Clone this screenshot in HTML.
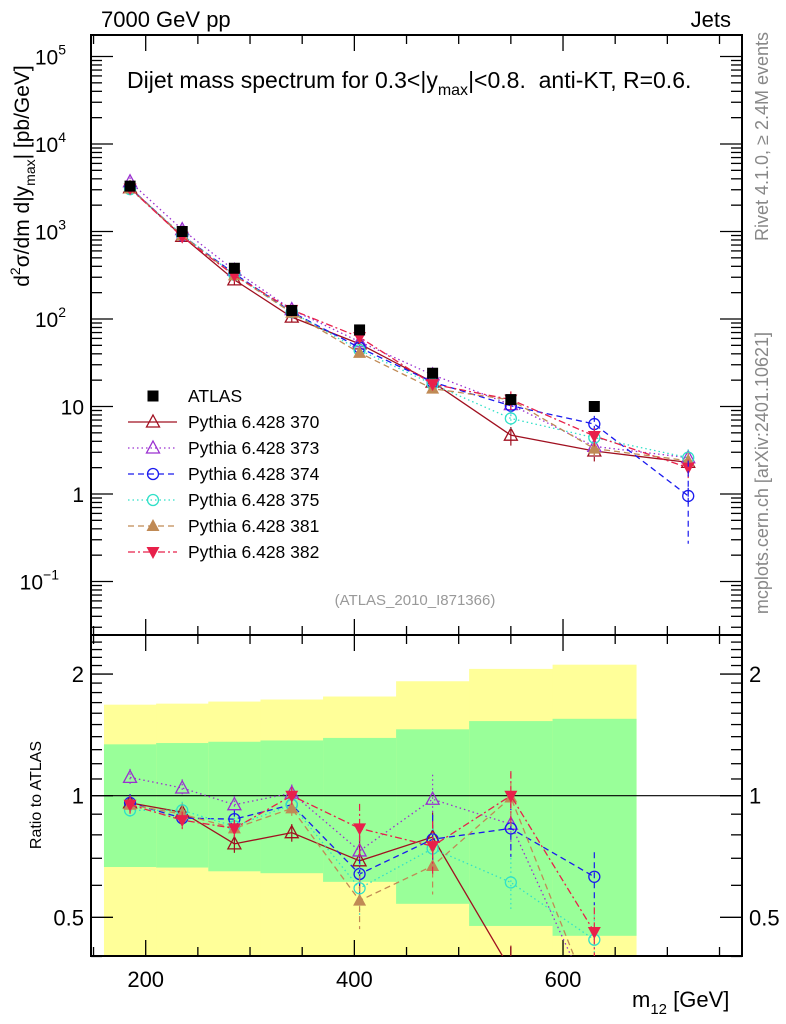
<!DOCTYPE html>
<html><head><meta charset="utf-8"><style>
body{margin:0;background:#fff;}
svg{display:block;font-family:"Liberation Sans",sans-serif;}
</style></head><body>
<svg id="c" width="786" height="1024" viewBox="0 0 786 1024"></svg>
<script>
const xs=[185,235,285,340,405,475,550,630,720];
const atlas=[3300,1000,380,125,75,24,12,10];
const s370=[3150,880,280,105,52,19,4.7,3.1,2.3];
const s373=[3700,1050,360,128,55,23,10.5,3.5,2.6];
const s374=[3150,900,330,120,47,19,10.2,6.3,0.95];
const s375=[3050,920,320,120,44,18,7.3,4.4,2.6];
const s381=[3100,900,315,118,41,16,11.9,3.3,2.4];
const s382=[3100,870,315,127,62,18,12,4.6,2.0];
const r370=[0.96,0.91,0.76,0.81,0.69,0.79,0.37,0.31];
const r373=[1.11,1.045,0.95,1.015,0.73,0.98,0.85,0.3];
const r374=[0.96,0.88,0.875,0.95,0.64,0.78,0.83,0.63];
const r375=[0.92,0.92,0.84,0.95,0.59,0.74,0.61,0.44];
const r381=[0.95,0.9,0.83,0.93,0.55,0.67,0.99,0.3];
const r382=[0.95,0.87,0.83,1.0,0.83,0.75,1.0,0.46];
const binEdges=[160,210,260,310,370,440,510,590,670];
const yellowUp=[1.68,1.69,1.71,1.73,1.76,1.92,2.06,2.11];
const greenUp=[1.34,1.35,1.36,1.37,1.39,1.46,1.53,1.55];
const greenDn=[0.666,0.664,0.65,0.643,0.612,0.54,0.476,0.45];
const yellowDn=[0.3,0.3,0.3,0.3,0.3,0.3,0.3,0.3];
const ticksMain=[5,4,3,2,1,0,-1];
const ticksRatio=[2,1,0.5];
const ticksX=[200,400,600];

const NS="http://www.w3.org/2000/svg";
const svg=document.getElementById('c');
const L=91,R=742,T=35,M=635,B=956;
const X=v=>145.7+(v-200)*1.0433;
const YM=v=>494-87.5*Math.log10(v);
const YR=v=>795.7-404*Math.log10(v);
function el(t,a,p){const e=document.createElementNS(NS,t);for(const k in a)e.setAttribute(k,a[k]);(p||svg).appendChild(e);return e;}
function txt(s,x,y,a,p){const e=el('text',Object.assign({x:x,y:y},a),p);e.textContent=s;return e;}

const defs=el('defs',{});
const c1=el('clipPath',{id:'cm'},defs);el('rect',{x:L,y:T,width:R-L,height:M-T},c1);
const c2=el('clipPath',{id:'cr'},defs);el('rect',{x:L,y:M,width:R-L,height:B-M},c2);

const bandG=el('g',{'clip-path':'url(#cr)'});


for(let i=0;i<yellowUp.length;i++){
  const x0=X(binEdges[i]),x1=X(binEdges[i+1]);
  const y=el('rect',{x:x0,y:YR(yellowUp[i]),width:x1-x0+0.5,height:YR(yellowDn[i])-YR(yellowUp[i]),fill:'#ffff99'},bandG);
  
  
  const g=el('rect',{x:x0,y:YR(greenUp[i]),width:x1-x0+0.5,height:YR(greenDn[i])-YR(greenUp[i]),fill:'#99ff99'},bandG);
  
  
}
el('line',{x1:L,x2:R,y1:YR(1),y2:YR(1),stroke:'#000','stroke-width':1.2});

el('rect',{x:L,y:T,width:R-L,height:M-T,fill:'none',stroke:'#000','stroke-width':2});
el('rect',{x:L,y:M,width:R-L,height:B-M,fill:'none',stroke:'#000','stroke-width':2});

for(let v=150;v<=770;v+=50){
  if(X(v)<L||X(v)>R)continue;
  const maj=v%200===0, h=maj?16:9;
  [[M,-1],[B,-1],[T,1],[M,1]].forEach(([y,d])=>{el('line',{x1:X(v),x2:X(v),y1:y,y2:y+d*h,stroke:'#000','stroke-width':1.3});});
}
ticksX.forEach(v=>{const t=txt(String(v),X(v),987,{'font-size':22,'text-anchor':'middle'});
});

for(let d=-2;d<=5;d++){for(let k=1;k<10;k++){const v=k*Math.pow(10,d);const y=YM(v);if(y<T||y>M)continue;
  const h=k===1?22:11;
  el('line',{x1:L,x2:L+h,y1:y,y2:y,stroke:'#000','stroke-width':1.3});
  el('line',{x1:R,x2:R-h,y1:y,y2:y,stroke:'#000','stroke-width':1.3});}}
ticksMain.forEach(p=>{const y=YM(Math.pow(10,p));let t;
  if(p===0)t=txt('1',84,y+8,{'font-size':21,'text-anchor':'end'});
  else if(p===1)t=txt('10',84,y+8,{'font-size':21,'text-anchor':'end'});
  else{t=txt('10',p<0?59:66,y+8,{'font-size':21,'text-anchor':'end'});const s=el('tspan',{dy:-10,'font-size':14},t);s.textContent=p<0?'\u22121':String(p);}
  });

[0.4,0.5,0.6,0.7,0.8,0.9,1,1.1,1.2,1.3,1.4,1.5,1.6,1.7,1.8,1.9,2,2.1,2.2,2.3,2.4].forEach(v=>{
  const y=YR(v);const maj=(v===0.5||v===1||v===2);const h=maj?22:11;
  el('line',{x1:L,x2:L+h,y1:y,y2:y,stroke:'#000','stroke-width':1.3});
  el('line',{x1:R,x2:R-h,y1:y,y2:y,stroke:'#000','stroke-width':1.3});});
ticksRatio.forEach(v=>{const y=YR(v)+8;
  const a=txt(String(v),84,y,{'font-size':22,'text-anchor':'end'});
  const b=txt(String(v),749,y,{'font-size':22});});

function marker(type,x,y,col,p){
  if(type==='sq')return el('rect',{x:x-5.5,y:y-5.5,width:11,height:11,fill:'#000'},p);
  if(type==='otri')return el('path',{d:`M${x},${y-7}L${x+6.5},${y+5}L${x-6.5},${y+5}Z`,fill:'none',stroke:col,'stroke-width':1.3},p);
  if(type==='ftri')return el('path',{d:`M${x},${y-7}L${x+6.5},${y+5}L${x-6.5},${y+5}Z`,fill:col},p);
  if(type==='dtri')return el('path',{d:`M${x},${y+7}L${x+6.5},${y-5}L${x-6.5},${y-5}Z`,fill:col},p);
  if(type==='circ')return el('circle',{cx:x,cy:y,r:5.5,fill:'none',stroke:col,'stroke-width':1.3},p);
}
const series=[
 {n:'370',m:s370,r:r370,c:'#a01020',d:'',t:'otri'},
 {n:'373',m:s373,r:r373,c:'#9a30d0',d:'1.5,3',t:'otri'},
 {n:'374',m:s374,r:r374,c:'#1a1aee',d:'6,4',t:'circ'},
 {n:'375',m:s375,r:r375,c:'#30e0c8',d:'1.5,3',t:'circ'},
 {n:'381',m:s381,r:r381,c:'#c08a55',d:'6,4',t:'ftri'},
 {n:'382',m:s382,r:r382,c:'#e8204a',d:'7,3,2,3',t:'dtri'}];

series.forEach(s=>{
  const g=el('g',{'clip-path':'url(#cm)'});
  
  
  el('polyline',{points:s.m.map((v,i)=>X(xs[i])+','+YM(v)).join(' '),fill:'none',stroke:s.c,'stroke-width':1.3,'stroke-dasharray':s.d},g);
  s.m.forEach((v,i)=>{const e=0.12*v*(i>5?2:1);
    el('line',{x1:X(xs[i]),x2:X(xs[i]),y1:YM(v+e),y2:YM(Math.max(v-e,v*0.3)),stroke:s.c,'stroke-width':1.2,'stroke-dasharray':s.d},g);
    marker(s.t,X(xs[i]),YM(v),s.c,g);});
  const h=el('g',{'clip-path':'url(#cr)'});
  
  
  el('polyline',{points:s.r.map((v,i)=>X(xs[i])+','+YR(v)).join(' '),fill:'none',stroke:s.c,'stroke-width':1.3,'stroke-dasharray':s.d},h);
  s.r.forEach((v,i)=>{const e=0.05*v*(i>3?3:1);
    el('line',{x1:X(xs[i]),x2:X(xs[i]),y1:YR(v+e),y2:YR(v-e),stroke:s.c,'stroke-width':1.2,'stroke-dasharray':s.d},h);
    marker(s.t,X(xs[i]),YR(v),s.c,h);});
});
el('line',{x1:X(720),x2:X(720),y1:YM(2.4),y2:YM(0.27),stroke:'#1a1aee','stroke-width':1.2,'stroke-dasharray':'6,4'});
const ag=el('g',{});


atlas.forEach((v,i)=>marker('sq',X(xs[i]),YM(v),'#000',ag));

const lg=el('g',{});


marker('sq',153,396,'#000',lg);
txt('ATLAS',188,402,{'font-size':17.5},lg);
series.forEach((s,i)=>{const y=422+i*26;
  el('line',{x1:128,x2:177,y1:y,y2:y,stroke:s.c,'stroke-width':1.3,'stroke-dasharray':s.d},lg);
  marker(s.t,153,y,s.c,lg);
  txt('Pythia 6.428 '+s.n,188,y+6,{'font-size':17.5},lg);});

let t;
t=txt('7000 GeV pp',101,27,{'font-size':22});
t=txt('Jets',731,27,{'font-size':22,'text-anchor':'end'});
t=txt('Dijet mass spectrum for 0.3<|y',127,88,{'font-size':23});
let ts=el('tspan',{dy:7,'font-size':16},t);ts.textContent='max';
ts=el('tspan',{dy:-7},t);ts.textContent='|<0.8.\u00a0 anti-KT, R=0.6.';

t=txt('(ATLAS_2010_I871366)',415,605,{'font-size':15,fill:'#999','text-anchor':'middle'});
t=txt('Rivet 4.1.0, \u2265 2.4M events',0,0,{'font-size':18,fill:'#888','text-anchor':'end',transform:'translate(768,32) rotate(-90)'});
t=txt('mcplots.cern.ch [arXiv:2401.10621]',0,0,{'font-size':18,fill:'#888','text-anchor':'end',transform:'translate(768,332) rotate(-90)'});
t=txt('d',0,0,{'font-size':21,'text-anchor':'middle',transform:'translate(29,176) rotate(-90)'});
ts=el('tspan',{dy:-9,'font-size':14},t);ts.textContent='2';
ts=el('tspan',{dy:9},t);ts.textContent='\u03c3/dm d|y';
ts=el('tspan',{dy:6,'font-size':14},t);ts.textContent='max';
ts=el('tspan',{dy:-6},t);ts.textContent='| [pb/GeV]';

t=txt('Ratio to ATLAS',0,0,{'font-size':16,'text-anchor':'middle',transform:'translate(41,795) rotate(-90)'});
t=txt('m',632,1007,{'font-size':22});
ts=el('tspan',{dy:7,'font-size':15},t);ts.textContent='12';
ts=el('tspan',{dy:-7},t);ts.textContent=' [GeV]';

</script>
</body></html>
